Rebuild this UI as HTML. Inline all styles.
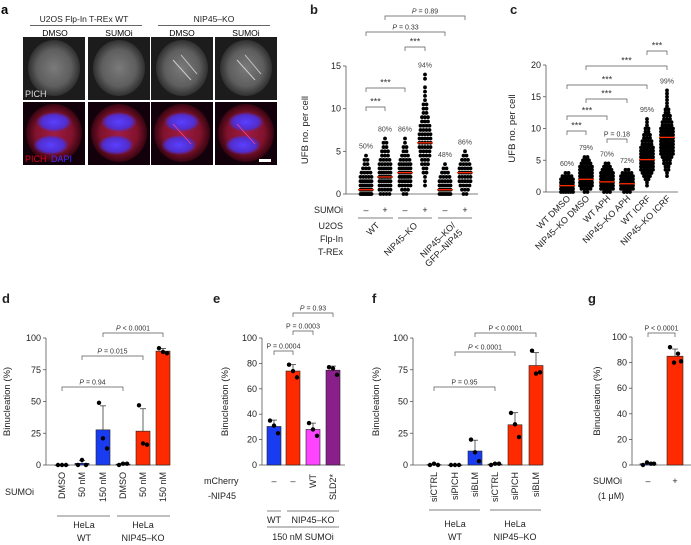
<!DOCTYPE html>
<html><head><meta charset="utf-8"><style>
html,body{margin:0;padding:0;background:#fff}
svg{display:block;font-family:"Liberation Sans",sans-serif}
</style></head><body>
<svg id="fig" width="691" height="545" viewBox="0 0 691 545" xmlns="http://www.w3.org/2000/svg">
<defs>
<radialGradient id="gcell" cx="50%" cy="50%" r="55%"><stop offset="0" stop-color="#7a7a7a"/><stop offset="0.6" stop-color="#5e5e5e"/><stop offset="1" stop-color="#222"/></radialGradient>
<radialGradient id="rcell" cx="50%" cy="50%" r="55%"><stop offset="0" stop-color="#a01c44"/><stop offset="0.6" stop-color="#80122c"/><stop offset="1" stop-color="#200008"/></radialGradient>
<radialGradient id="blue" cx="50%" cy="50%" r="50%"><stop offset="0" stop-color="#5a40ff"/><stop offset="0.7" stop-color="#4a30e0" stop-opacity="0.9"/><stop offset="1" stop-color="#4a30e0" stop-opacity="0"/></radialGradient>
</defs>
<g id="panelA">
<text x="1" y="14" font-size="13" font-weight="bold">a</text>
<text x="84" y="22" font-size="8.5" text-anchor="middle" fill="#222">U2OS Flp-In T-REx WT</text>
<line x1="30" y1="25.5" x2="142" y2="25.5" stroke="#333" stroke-width="0.7"/>
<text x="214" y="22" font-size="8.5" text-anchor="middle" fill="#222">NIP45–KO</text>
<line x1="158" y1="25.5" x2="270" y2="25.5" stroke="#333" stroke-width="0.7"/>
<text x="55" y="36" font-size="8.5" text-anchor="middle">DMSO</text>
<text x="119" y="36" font-size="8.5" text-anchor="middle">SUMOi</text>
<text x="182" y="36" font-size="8.5" text-anchor="middle">DMSO</text>
<text x="246" y="36" font-size="8.5" text-anchor="middle">SUMOi</text>
</g>
<g id="plots"></g>
</svg>
<script>
// ---------- data ----------
const bCats = ['WT −','WT +','KO −','KO +','GFP −','GFP +'];
const bHist0 = [14,12,9,7,5,4,3,2,2,1];
const bHist1 = [4,5,6,7,8,7,6,5,4,3,3,2,2,1];
const bHist2 = [2,3,5,6,8,8,7,6,4,3,2,2,1,1];
const bHist3 = [0,0,1,1,1,2,2,3,3,4,4,5,5,5,5,4,4,3,3,2,2,2,1,1,1,1,0,1,1];
const bHist4 = [10,9,7,5,4,3,2,1];
const bHist5 = [2,3,4,5,5,6,5,4,3,2,1];
const bMedians = [0.5,2,2.5,6,0.5,2.5];
const bPercents = ['50%','80%','86%','94%','48%','86%'];
const bTicks = [0,5,10,15];
const cCats = ['WT DMSO','NIP45–KO DMSO','WT APH','NIP45–KO APH','WT ICRF','NIP45–KO ICRF'];
const cHist0 = [6,9,12,10,7,4,2];
const cHist1 = [2,4,6,8,9,8,7,6,5,4,3,2];
const cHist2 = [3,6,9,10,9,7,5,4,3,2];
const cHist3 = [3,7,10,11,9,6,4,2];
const cHist4 = [0,0,1,1,2,3,4,5,6,7,8,8,7,6,5,4,4,3,3,2,2,1,1,1];
const cHist5 = [0,0,0,0,0,1,1,2,2,3,3,4,5,6,7,8,8,8,7,6,5,4,4,3,3,2,2,1,1,1,1,1,1];
const cMedians = [1,2,1.6,1.3,5.1,8.6];
const cPercents = ['60%','79%','70%','72%','95%','99%'];
const cTicks = [0,5,10,15,20];
const dCats = ['DMSO','50 nM','150 nM','DMSO','50 nM','150 nM'];
const dPts0 = [0,0,0], dPts1 = [0,4,0], dPts2 = [49,21,13];
const dPts3 = [0,1,1], dPts4 = [47,17,16], dPts5 = [92,89,88];
const dTicks = [0,25,50,75,100];
const eCats = ['–','–','WT','SLD2*'];
const ePts0 = [35,31,25], ePts1 = [79,74,69], ePts2 = [33,28,23], ePts3 = [77,76,71];
const eTicks = [0,20,40,60,80,100];
const fCats = ['siCTRL','siPICH','siBLM','siCTRL','siPICH','siBLM'];
const fPts0 = [0,1,0], fPts1 = [0,0,0], fPts2 = [20,10,3];
const fPts3 = [0,1,1], fPts4 = [41,32,22], fPts5 = [90,72,73];
const fTicks = [0,25,50,75,100];
const gCats = ['–','+'];
const gPts0 = [0,2,1,1], gPts1 = [92,80,87,81];
const gTicks = [0,20,40,60,80,100];

// ---------- helpers ----------
const NS='http://www.w3.org/2000/svg';
const root=document.getElementById('plots');
function el(tag,attrs,parent,txt){const e=document.createElementNS(NS,tag);for(const k in attrs)e.setAttribute(k,attrs[k]);if(txt!==undefined)e.textContent=txt;(parent||root).appendChild(e);return e;}
function text(x,y,s,size,parent,extra){const a={x:x,y:y,'font-size':size,fill:'#222'};if(extra)for(const k in extra)a[k]=extra[k];return el('text',a,parent,s);}
function yAxis(g,x,y0,yTop,x1,max,ticks,title,tx){
  const sc=v=>y0-(v/max)*(y0-yTop);
  el('line',{x1:x,y1:y0,x2:x,y2:yTop,stroke:'#555','stroke-width':0.8},g);
  el('line',{x1:x,y1:y0,x2:x1,y2:y0,stroke:'#555','stroke-width':0.8},g);
  ticks.forEach(t=>{el('line',{x1:x-3,y1:sc(t),x2:x,y2:sc(t),stroke:'#555','stroke-width':0.8},g);
    const lab=text(x-5,sc(t)+3,String(t),9,g,{'text-anchor':'end'});
    
    });
  const tt=text(tx,(y0+yTop)/2,title,9.5,g,{'text-anchor':'middle',transform:'rotate(-90 '+tx+' '+(y0+yTop)/2+')'});
  
  
  return sc;
}
function bracket(g,x1,x2,y,label,isP){
  el('path',{d:'M'+x1+' '+(y+4)+'V'+y+'H'+x2+'V'+(y+4),fill:'none',stroke:'#555','stroke-width':0.7},g);
  const star=label==='***';
  const t=el('text',{x:(x1+x2)/2,y:y-2.5,'font-size':star?9:7,'text-anchor':'middle',fill:'#333'},g);
  
  
  if(isP){el('tspan',{'font-style':'italic'},t,'P');el('tspan',{},t,label);} else t.textContent=label;
}
function swarm(g,cx,sc,hist,binStep,maxW){
  hist.forEach((n,i)=>{const y=sc(i*binStep);const sp=n>1?Math.min(3,maxW/(n-1)):0;
    for(let k=0;k<n;k++){const c=el('circle',{cx:cx+(k-(n-1)/2)*sp,cy:y,r:1.9,fill:'#000'},g);
      
      }});
}
function bars(g,xs,sc,ptsList,colors,w){
  ptsList.forEach((p,i)=>{const m=p.reduce((a,b)=>a+b,0)/p.length;
    const sd=Math.sqrt(p.reduce((a,b)=>a+(b-m)*(b-m),0)/(p.length-1));
    const r=el('rect',{x:xs[i]-w/2,y:sc(m),width:w,height:Math.max(0.5,sc(0)-sc(m)),fill:colors[i],stroke:'#222','stroke-width':0.6},g);
    
    
    if(sd>0.5){el('line',{x1:xs[i],y1:sc(m),x2:xs[i],y2:sc(m+sd),stroke:'#222','stroke-width':0.7},g);
      el('line',{x1:xs[i]-3,y1:sc(m+sd),x2:xs[i]+3,y2:sc(m+sd),stroke:'#222','stroke-width':0.7},g);}
    const off=[-4,0,4,2];
    p.forEach((v,k)=>{const c=el('circle',{cx:xs[i]+(p.length===4?[-5,-1,3,6][k]:off[k]),cy:sc(v),r:2.2,fill:'#000'},g);
      
      });
  });
}
function rotLabel(g,x,y,s,size,ang){const t=text(x,y,s,size,g,{'text-anchor':'end',transform:'rotate('+ang+' '+x+' '+y+')'});return t;}
function groupLine(g,x1,x2,y){el('line',{x1:x1,y1:y,x2:x2,y2:y,stroke:'#555','stroke-width':0.7},g);}
function grp(name){const g=el('g',{});return g;}

// ---------- panel a images ----------
(function(){
  const pa=document.getElementById('panelA');
  const xs=[23,88,151,215];
  xs.forEach((x,i)=>{
    el('rect',{x:x,y:37,width:62,height:63,fill:'#1c1c1c'},pa);
    el('ellipse',{cx:x+31,cy:68,rx:26,ry:28,fill:'url(#gcell)'},pa);
    el('rect',{x:x,y:102,width:62,height:63,fill:'#12000a'},pa);
    el('ellipse',{cx:x+31,cy:133,rx:28,ry:29,fill:'url(#rcell)'},pa);
    el('ellipse',{cx:x+31,cy:122,rx:18,ry:10,fill:'url(#blue)'},pa);
    el('ellipse',{cx:x+28,cy:145,rx:18,ry:10,fill:'url(#blue)'},pa);
    if(i>=2){el('line',{x1:x+22,y1:60,x2:x+40,y2:80,stroke:'#ccc','stroke-width':1},pa);el('line',{x1:x+30,y1:55,x2:x+46,y2:74,stroke:'#bbb','stroke-width':1},pa);
      el('line',{x1:x+22,y1:124,x2:x+40,y2:144,stroke:'#ff4080','stroke-width':0.8},pa);}
  });
  const t1=text(25,97,'PICH',9,pa,{fill:'#ddd'});
  const t2=text(25,162,'PICH',9,pa,{fill:'#e00020'});
  const t3=text(51,162,'DAPI',9,pa,{fill:'#3a30ff'});
  el('rect',{x:259,y:159,width:12,height:3,fill:'#fff'},pa);
})();

// ---------- panel b ----------
(function(){
  const g=grp('panel-b-chart');
  text(310,14,'b',13,g,{'font-weight':'bold'});
  const sc=yAxis(g,346,194,66,478,15,bTicks,'UFB no. per cell',308);
  const xs=[366,385,405,425,445,465];
  const H=[bHist0,bHist1,bHist2,bHist3,bHist4,bHist5];
  H.forEach((h,i)=>{swarm(g,xs[i],sc,h,0.5,11);
    const mx=(h.length-1)*0.5;
    const pt=text(xs[i],sc(mx)-7,bPercents[i],7,g,{'text-anchor':'middle',fill:'#444'});
    
    
    const md=el('line',{x1:xs[i]-8,y1:sc(bMedians[i]),x2:xs[i]+8,y2:sc(bMedians[i]),stroke:'#ff2a00','stroke-width':1.3},g);
    
    
    text(xs[i],213,i%2?'+':'–',9,g,{'text-anchor':'middle'});
  });
  bracket(g,366,385,107,'***',false);
  bracket(g,366,405,88,'***',false);
  bracket(g,405,425,47,'***',false);
  bracket(g,366,445,32,' = 0.33',true);
  bracket(g,385,465,16,' = 0.89',true);
  groupLine(g,358,393,218);groupLine(g,398,432,218);groupLine(g,438,472,218);
  rotLabel(g,380,226,'WT',9,-45);
  rotLabel(g,418,226,'NIP45–KO',9,-45);
  rotLabel(g,456,226,'NIP45–KO/',9,-45);
  rotLabel(g,463,233,'GFP–NIP45',9,-45);
  [['SUMOi',213],['U2OS',229],['Flp-In',242],['T-REx',255]].forEach(a=>{const t=text(343,a[1],a[0],9,g,{'text-anchor':'end'});});
})();

// ---------- panel c ----------
(function(){
  const g=grp('panel-c-chart');
  text(510,14,'c',13,g,{'font-weight':'bold'});
  const sc=yAxis(g,546,192,65,678,20,cTicks,'UFB no. per cell',515);
  const xs=[567,586,607,627,647,667];
  const H=[cHist0,cHist1,cHist2,cHist3,cHist4,cHist5];
  H.forEach((h,i)=>{swarm(g,xs[i],sc,h,0.5,12);
    const mx=(h.length-1)*0.5;
    const pt=text(xs[i],sc(mx)-7,cPercents[i],7,g,{'text-anchor':'middle',fill:'#444'});
    
    
    const md=el('line',{x1:xs[i]-8,y1:sc(cMedians[i]),x2:xs[i]+8,y2:sc(cMedians[i]),stroke:'#ff2a00','stroke-width':1.3},g);
    
    
    rotLabel(g,xs[i]+4,199,cCats[i],9,-45);
  });
  bracket(g,567,586,131,'***',false);
  bracket(g,567,607,116,'***',false);
  bracket(g,586,627,99,'***',false);
  bracket(g,607,627,139,'P = 0.18',false);
  bracket(g,567,647,85,'***',false);
  bracket(g,586,667,66,'***',false);
  bracket(g,647,667,51,'***',false);
})();

// ---------- panel d ----------
(function(){
  const g=grp('panel-d-chart');
  text(2,303,'d',13,g,{'font-weight':'bold'});
  const sc=yAxis(g,46,465,338,170,100,dTicks,'Binucleation (%)',10);
  const xs=[62,82,103,123,143,163];
  const B='#1a3cf0',R='#ff2a00';
  bars(g,xs,sc,[dPts0,dPts1,dPts2,dPts3,dPts4,dPts5],[B,B,B,R,R,R],14);
  bracket(g,62,123,387,' = 0.94',true);
  bracket(g,82,143,356,' = 0.015',true);
  bracket(g,103,163,333,' < 0.0001',true);
  dCats.forEach((c,i)=>rotLabel(g,xs[i]+3,472,c,9,-90));
  text(5,495,'SUMOi',9,g);
  groupLine(g,57,110,516);groupLine(g,117,170,516);
  [['HeLa',84,528],['WT',84,541],['HeLa',143,528],['NIP45–KO',143,541]].forEach(a=>{const t=text(a[1],a[2],a[0],9,g,{'text-anchor':'middle'});});
})();

// ---------- panel e ----------
(function(){
  const g=grp('panel-e-chart');
  text(213,303,'e',13,g,{'font-weight':'bold'});
  const sc=yAxis(g,262,465,338,345,100,eTicks,'Binucleation (%)',228);
  const xs=[274,293,313,333];
  bars(g,xs,sc,[ePts0,ePts1,ePts2,ePts3],['#1a3cf0','#ff2a00','#ff44ff','#8a1e8a'],14);
  bracket(g,274,293,351,'P = 0.0004',false);
  bracket(g,293,313,331,'P = 0.0003',false);
  bracket(g,293,333,313,' = 0.93',true);
  text(274,484,'–',9,g,{'text-anchor':'middle'});text(293,484,'–',9,g,{'text-anchor':'middle'});
  rotLabel(g,316,474,'WT',9,-90);rotLabel(g,336,474,'SLD2*',9,-90);
  text(204,484,'mCherry',9,g);text(208,499,'-NIP45',9,g);
  groupLine(g,267,281,511);groupLine(g,287,339,511);
  text(274,523,'WT',9,g,{'text-anchor':'middle'});text(313,523,'NIP45–KO',9,g,{'text-anchor':'middle'});
  groupLine(g,267,339,527);
  text(303,540,'150 nM SUMOi',9,g,{'text-anchor':'middle'});
})();

// ---------- panel f ----------
(function(){
  const g=grp('panel-f-chart');
  text(372,303,'f',13,g,{'font-weight':'bold'});
  const sc=yAxis(g,413,465,338,542,100,fTicks,'Binucleation (%)',379);
  const xs=[434,455,475,495,515,536];
  const B='#1a3cf0',R='#ff2a00';
  bars(g,xs,sc,[fPts0,fPts1,fPts2,fPts3,fPts4,fPts5],[B,B,B,R,R,R],14);
  bracket(g,434,495,387,'P = 0.95',false);
  bracket(g,455,515,352,' < 0.0001',true);
  bracket(g,475,536,333,'P < 0.0001',false);
  fCats.forEach((c,i)=>rotLabel(g,xs[i]+3,472,c,9,-90));
  groupLine(g,429,480,510);groupLine(g,490,541,510);
  [['HeLa',455,527],['WT',455,540],['HeLa',515,527],['NIP45–KO',515,540]].forEach(a=>{const t=text(a[1],a[2],a[0],9,g,{'text-anchor':'middle'});});
})();

// ---------- panel g ----------
(function(){
  const g=grp('panel-g-chart');
  text(588,303,'g',13,g,{'font-weight':'bold'});
  const sc=yAxis(g,632,465,337,692,100,gTicks,'Binucleation (%)',600);
  const xs=[648,675];
  bars(g,xs,sc,[gPts0,gPts1],['#1a3cf0','#ff2a00'],16);
  bracket(g,648,675,333,'P < 0.0001',false);
  text(648,484,'–',9,g,{'text-anchor':'middle'});text(675,484,'+',9,g,{'text-anchor':'middle'});
  text(593,484,'SUMOi',9,g);text(598,499,'(1 μM)',9,g);
})();
</script>
</body></html>
